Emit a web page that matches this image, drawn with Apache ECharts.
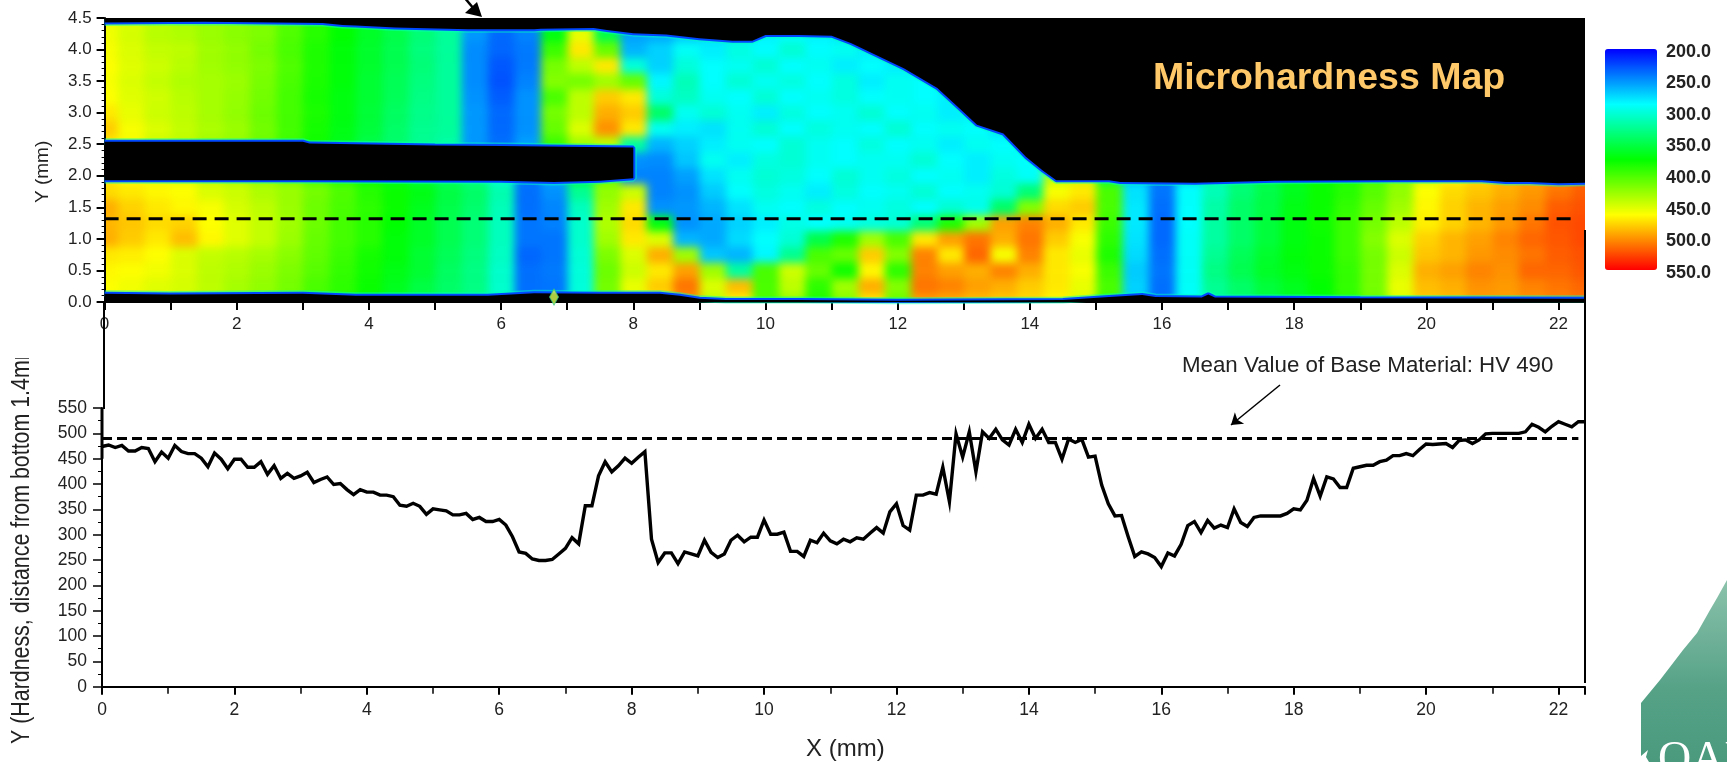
<!DOCTYPE html>
<html>
<head>
<meta charset="utf-8">
<script src="https://cdn.jsdelivr.net/npm/echarts@6/dist/echarts.min.js"></script>
<style>
html,body{margin:0;padding:0;background:#fff;overflow:hidden;width:1727px;height:762px}
#clip{position:absolute;left:105px;top:18px;width:1480px;height:284px;overflow:hidden;background:#000}
#map{position:absolute;left:-105px;top:-18px;width:1727px;height:762px;filter:blur(4.5px)}
#main{position:absolute;left:0;top:0;width:1727px;height:762px}
</style>
</head>
<body>
<div id="clip"><div id="map"></div></div>
<div id="main"></div>
<script>
// Hardness profile along y = 1.4 mm, one value every 0.1 mm from x = 0
const hardness = [
474,477,472,476,465,465,472,470,444,463,
451,476,464,460,460,451,434,461,449,430,
449,449,433,433,444,419,436,411,421,411,
416,423,403,409,414,399,401,389,379,389,
384,384,378,378,375,358,356,362,356,340,
351,349,347,339,339,342,330,334,326,326,
330,319,296,266,263,252,249,249,251,262,
273,294,282,357,357,416,444,424,436,451,
441,453,464,291,245,264,264,243,266,262,
258,289,265,255,262,289,299,286,295,295,
329,301,301,305,267,267,257,289,284,303,
288,282,291,286,294,291,303,314,303,345,
361,318,309,378,378,383,380,433,365,499,
453,503,424,503,490,508,487,477,508,482,
518,490,508,482,482,449,489,482,488,453,
455,398,361,337,338,296,257,266,262,255,
237,264,258,281,318,326,304,328,313,319,
314,351,324,316,334,337,337,337,337,342,
351,349,368,411,376,414,410,393,393,431,
434,437,437,444,447,456,456,460,456,468,
479,478,479,480,472,486,487,480,487,499,
500,500,500,500,500,503,518,512,503,514,
523,518,513,523,523];
const meanHV = 490;
const scanY = 1.32;

// Map grid: columns every 0.4 mm, rows every 0.25 mm
const mapX = ['0','0.4','0.8','1.2','1.6','2','2.4','2.8','3.2','3.6','4','4.4','4.8','5.2','5.6','6','6.4','6.8','7.2','7.6','8','8.4','8.8','9.2','9.6','10','10.4','10.8','11.2','11.6','12','12.4','12.8','13.2','13.6','14','14.4','14.8','15.2','15.6','16','16.4','16.8','17.2','17.6','18','18.4','18.8','19.2','19.6','20','20.4','20.8','21.2','21.6','22','22.4'];
const mapY = ['0','0.25','0.5','0.75','1','1.25','1.5','1.75','2','2.25','2.5','2.75','3','3.25','3.5','3.75','4','4.25','4.5'];
const row000 = [460,455,450,445,438,430,422,412,398,388,375,362,350,338,328,305,238,240,300,410,450,470,500,440,465,400,425,385,420,470,410,495,490,485,480,475,465,450,395,270,238,288,322,338,352,362,372,390,412,450,480,485,495,495,500,505,510];
const row025 = [462,458,452,448,440,432,425,415,400,390,378,365,352,340,330,305,238,240,300,415,455,480,510,450,485,400,440,390,430,490,420,510,505,495,490,480,470,455,400,272,238,290,325,340,355,365,375,392,415,455,485,490,500,497,505,510,515];
const row050 = [465,462,458,450,440,435,428,418,405,392,380,368,358,342,330,305,238,242,300,412,445,470,495,430,320,400,445,410,380,465,390,505,495,490,505,490,470,460,395,270,240,290,330,348,362,370,378,392,415,450,490,495,505,500,515,515,520];
const row075 = [470,468,462,450,442,438,432,422,408,395,382,372,358,345,332,308,235,240,302,418,450,490,430,268,262,285,325,400,410,480,420,505,470,515,460,505,470,455,385,275,238,290,325,345,360,372,378,395,415,445,482,488,498,502,510,518,522];
const row100 = [490,480,470,485,465,452,442,428,410,398,388,372,362,348,335,310,240,240,305,430,470,450,262,258,275,288,302,350,385,430,400,470,495,510,490,510,480,460,390,278,236,290,320,340,355,370,378,395,420,450,478,488,495,505,515,520,525];
const row125 = [488,482,475,478,462,452,442,430,412,398,388,375,362,348,335,310,240,244,305,435,475,370,250,258,272,282,296,288,292,298,302,335,385,430,495,505,490,470,395,280,236,288,320,340,355,370,380,395,415,440,468,478,488,498,510,522,525];
const row150 = [490,478,470,465,460,448,440,428,412,400,390,378,365,350,338,312,238,246,310,430,470,250,252,262,278,292,288,298,288,292,298,288,302,294,340,420,475,480,400,280,238,288,318,340,352,368,378,392,410,430,465,478,488,495,502,518,522];
const row175 = [475,470,465,462,450,445,435,428,415,402,388,378,368,352,340,315,238,250,325,425,445,245,250,270,288,298,292,282,298,288,292,302,288,292,302,335,460,470,400,278,240,288,312,335,350,365,378,388,405,425,462,475,482,490,498,510,518];
const row200 = [470,462,455,450,440,432,425,415,400,388,378,365,352,340,328,300,240,260,360,410,245,245,255,278,292,302,298,288,302,292,298,288,292,282,298,290,440,445,350,260,240,270,320,340,355,368,378,385,400,420,445,465,475,485,490,500,510];
const row225 = [465,458,450,442,435,428,418,405,390,378,362,350,338,322,300,250,260,300,370,410,250,248,268,292,282,298,302,292,288,292,292,302,288,282,292,288,280,285,285,285,285,285,285,285,285,285,285,285,285,285,285,285,285,285,285,285,285];
const row250 = [470,460,445,440,430,425,412,396,380,366,350,338,325,318,252,238,255,395,430,440,320,262,272,282,292,288,302,292,288,298,288,292,282,292,288,282,280,280,285,285,285,285,285,285,285,285,285,285,285,285,285,285,285,285,285,285,285];
const row275 = [480,460,450,442,434,428,414,398,382,368,355,340,326,322,252,236,250,410,450,500,470,292,282,278,292,302,288,298,292,288,302,288,292,288,278,278,280,285,285,285,285,285,285,285,285,285,285,285,285,285,285,285,285,285,285,285,285];
const row300 = [470,455,445,440,432,425,412,398,384,370,356,342,328,322,252,236,250,415,440,490,480,340,292,302,292,282,298,288,292,302,288,292,282,285,285,285,285,285,285,285,285,285,285,285,285,285,285,285,285,285,285,285,285,285,285,285,285];
const row325 = [462,452,446,438,432,426,414,398,382,370,358,345,330,322,250,232,250,400,440,480,470,300,308,292,288,302,288,292,298,288,292,288,282,285,285,285,285,285,285,285,285,285,285,285,285,285,285,285,285,285,285,285,285,285,285,285,285];
const row350 = [460,450,442,435,432,428,416,400,384,372,358,346,332,322,248,228,245,420,415,430,410,285,312,288,302,292,298,288,298,282,292,288,282,285,285,285,285,285,285,285,285,285,285,285,285,285,285,285,285,285,285,285,285,285,285,285,285];
const row375 = [462,452,445,438,430,425,418,402,385,372,360,348,334,322,248,230,242,415,440,470,300,272,300,288,292,302,288,292,282,288,282,282,282,282,282,282,282,282,282,282,282,282,282,282,282,282,282,282,282,282,282,282,282,282,282,282,282];
const row400 = [460,450,442,440,430,425,415,400,385,372,360,348,332,322,248,235,242,395,470,410,262,272,290,282,297,287,302,287,292,282,278,278,278,278,278,278,278,278,278,278,278,278,278,278,278,278,278,278,278,278,278,278,278,278,278,278,278];
const row425 = [458,448,438,435,428,422,418,402,388,375,362,350,335,322,252,236,245,370,455,350,255,258,268,275,280,284,288,284,280,278,278,278,278,278,278,278,278,278,278,278,278,278,278,278,278,278,278,278,278,278,278,278,278,278,278,278,278];
const row450 = [455,450,440,432,428,424,418,405,388,375,362,350,335,322,252,236,245,330,420,340,255,258,268,275,280,284,288,284,280,278,278,278,278,278,278,278,278,278,278,278,278,278,278,278,278,278,278,278,278,278,278,278,278,278,278,278,278];
const mapRows = [row000,row025,row050,row075,row100,row125,row150,row175,row200,row225,row250,row275,row300,row325,row350,row375,row400,row425,row450];

// Specimen outline, [x mm, y mm]
const topEdge = [[0,4.43],[1.5,4.44],[3.3,4.42],[3.6,4.39],[3.8,4.38],[4.4,4.35],[5.5,4.32],[6.5,4.32],[6.6,4.33],[7.4,4.34],[7.6,4.31],[8,4.26],[8.5,4.24],[9,4.18],[9.5,4.14],[9.8,4.14],[10,4.23],[10.5,4.23],[11,4.22],[11.3,4.1],[11.6,3.95],[12.1,3.7],[12.6,3.39],[12.9,3.1],[13.2,2.81],[13.6,2.67],[13.94,2.3],[14.2,2.08],[14.4,1.93],[15.2,1.93],[15.37,1.9],[16.5,1.89],[17.7,1.92],[19.5,1.93],[20.84,1.93],[21.2,1.9],[21.56,1.9],[22,1.88],[22.4,1.89]];
const notchEdge = [[0,2.54],[3,2.54],[3.1,2.51],[5,2.48],[6,2.47],[8,2.45],[8,1.96],[7.5,1.92],[6.8,1.9],[6,1.92],[3,1.93],[0,1.93]];
const bottomEdge = [[0,0.13],[1,0.12],[3,0.13],[3.8,0.1],[4.8,0.1],[5.8,0.1],[6.5,0.14],[7.5,0.13],[8.4,0.13],[8.7,0.1],[9,0.05],[9.4,0.03],[10.5,0.03],[12,0.02],[14.5,0.03],[15.2,0.08],[15.7,0.11],[15.9,0.08],[16.6,0.07],[16.7,0.12],[16.8,0.07],[19,0.06],[22.4,0.05]];
const defectPoint = [[6.8,0.08]];

const C_AXIS = '#222';
const mapColors = ['#0000ff','#00ffff','#00ff00','#ffff00','#ff0000'];
const mapData = [];
mapRows.forEach((r,j)=>r.forEach((v,i)=>mapData.push([i,j,v])));

echarts.init(document.getElementById('map'),null,{renderer:'canvas'}).setOption({
  animation:false,
  grid:{left:91.8,top:10.1,width:1507,height:299.8},
  xAxis:{type:'category',data:mapX,show:false},
  yAxis:{type:'category',data:mapY,show:false},
  visualMap:{show:false,min:200,max:550,inRange:{color:mapColors},seriesIndex:0},
  series:[{type:'heatmap',data:mapData,progressive:0,silent:true,emphasis:{disabled:true}}]
});

const xTickLabel = {fontFamily:'Liberation Sans',fontSize:17,color:C_AXIS};
function polygon(pts){
  return function(p,api){
    return {type:'polygon',shape:{points:pts.map(q=>api.coord(q))},style:{fill:'#000'},silent:true};
  };
}
const topMask = topEdge.concat([[22.4,4.5],[0,4.5]]);
const bottomMask = bottomEdge.concat([[22.4,0],[0,0]]);
function edgeSeries(edge,width,color,z){
  return {type:'line',xAxisIndex:0,yAxisIndex:0,data:edge,showSymbol:false,silent:true,z:z,clip:true,
    lineStyle:{width:width,color:color},animation:false};
}
function maskSeries(pts){
  return {type:'custom',xAxisIndex:0,yAxisIndex:0,data:[0],renderItem:polygon(pts),clip:true,z:5,silent:true};
}

const option = {
  animation:false,
  backgroundColor:'transparent',
  textStyle:{fontFamily:'Liberation Sans'},
  grid:[
    {left:104.6,top:18,width:1480.4,height:284},
    {left:102,top:408,width:1483,height:278.7},
    {left:1605,top:51.7,width:52,height:221}
  ],
  xAxis:[
    {gridIndex:0,type:'value',min:0,max:22.4,interval:2,splitLine:{show:false},
     axisLine:{onZero:false,lineStyle:{color:'#000',width:2}},
     axisTick:{length:8,lineStyle:{color:'#000',width:2}},
     minorTick:{show:true,splitNumber:2,length:8,lineStyle:{color:'#000',width:2}},
     axisLabel:Object.assign({showMaxLabel:false,margin:14},xTickLabel)},
    {gridIndex:1,type:'value',min:0,max:22.4,interval:2,splitLine:{show:false},
     axisLine:{onZero:false,lineStyle:{color:'#000',width:2}},
     axisTick:{length:8,lineStyle:{color:'#000',width:2}},
     minorTick:{show:true,splitNumber:2,length:7,lineStyle:{color:'#000',width:1.5}},
     axisLabel:Object.assign({showMaxLabel:false,margin:14},xTickLabel,{fontSize:17.5})},
    {gridIndex:2,type:'value',show:false,min:0,max:1}
  ],
  yAxis:[
    {gridIndex:0,type:'value',min:0,max:4.5,interval:0.5,splitLine:{show:false},
     axisLine:{lineStyle:{color:'#000',width:2}},
     axisTick:{length:8,lineStyle:{color:'#000',width:2}},
     minorTick:{show:true,splitNumber:5,length:3,lineStyle:{color:'#000',width:1}},
     axisLabel:Object.assign({margin:13,formatter:v=>v.toFixed(1)},xTickLabel)},
    {gridIndex:1,type:'value',min:0,max:550,interval:50,splitLine:{show:false},
     axisLine:{lineStyle:{color:'#000',width:2}},
     axisTick:{length:9,lineStyle:{color:'#000',width:1.5}},
     minorTick:{show:true,splitNumber:2,length:4,lineStyle:{color:'#000',width:1}},
     axisLabel:Object.assign({margin:15},xTickLabel,{fontSize:17.5})},
    {gridIndex:2,type:'value',min:200,max:550,interval:50,inverse:true,position:'right',
     axisLine:{show:false},axisTick:{show:false},splitLine:{show:false},
     axisLabel:{margin:9,fontFamily:'Liberation Sans',fontWeight:'bold',fontSize:18,color:'#222',formatter:v=>v.toFixed(1)}}
  ],
  visualMap:{type:'continuous',show:true,seriesIndex:[],min:200,max:550,inverse:true,calculable:false,realtime:false,
    left:1605,top:49,itemWidth:52,itemHeight:221,padding:0,text:['',''],showLabel:false,
    inRange:{color:mapColors},hoverLink:false,silent:true},
  series:[
    edgeSeries(topEdge,7,'rgba(0,255,190,0.5)',3),
    edgeSeries(topEdge,4,'#0048ff',4),
    edgeSeries(notchEdge,7,'rgba(0,255,190,0.5)',3),
    edgeSeries(notchEdge,4,'#0048ff',4),
    edgeSeries(bottomEdge,7,'rgba(0,255,190,0.5)',3),
    edgeSeries(bottomEdge,4,'#0048ff',4),
    maskSeries(topMask),
    maskSeries(notchEdge),
    maskSeries(bottomMask),
    {type:'scatter',xAxisIndex:0,yAxisIndex:0,data:defectPoint,symbol:'diamond',symbolSize:[9,16],z:6,silent:true,
     itemStyle:{color:'#d8ff50',borderColor:'#30c080',borderWidth:1}},
    {type:'line',xAxisIndex:0,yAxisIndex:0,data:[[0,scanY],[22.3,scanY]],showSymbol:false,z:7,silent:true,
     lineStyle:{color:'#000',width:3,type:[14,8]}},
    {type:'line',xAxisIndex:1,yAxisIndex:1,data:[[0,meanHV],[22.3,meanHV]],showSymbol:false,z:3,silent:true,
     lineStyle:{color:'#000',width:3,type:[10,5]},
     markLine:{silent:true,symbol:['none','arrow'],symbolSize:11,label:{show:false},animation:false,
       lineStyle:{color:'#000',width:1.5,type:'solid'},
       data:[[{x:1280,y:385},{x:1231,y:425}]]}},
    {type:'line',xAxisIndex:1,yAxisIndex:1,data:hardness.map((v,i)=>[i/10,v]),showSymbol:false,z:4,silent:true,clip:false,
     lineStyle:{color:'#000',width:3.4,join:'miter'}},
    {type:'line',xAxisIndex:1,yAxisIndex:1,data:[[0,450],[0,550]],showSymbol:false,z:4,silent:true,lineStyle:{color:'#000',width:3}},
    {type:'line',xAxisIndex:2,yAxisIndex:2,data:[],silent:true}
  ],
  graphic:[
    // axis lines that run between the two panels
    {type:'line',z:10,shape:{x1:104,y1:302,x2:104,y2:409},style:{stroke:'#000',lineWidth:2}},
    {type:'line',z:10,shape:{x1:1585,y1:230,x2:1585,y2:683},style:{stroke:'#000',lineWidth:2}},
    // top arrow
    {type:'polygon',z:12,shape:{points:[[482,17],[465,13],[477,2]]},style:{fill:'#000'}},
    {type:'line',z:12,shape:{x1:464,y1:-3,x2:474,y2:9},style:{stroke:'#000',lineWidth:2.5}},
    // titles
    {type:'text',z:20,x:1153,y:60,style:{text:'Microhardness Map',fill:'#ffc868',font:'bold 37.5px "Liberation Sans"'}},
    {type:'text',z:20,x:1182,y:355,style:{text:'Mean Value of Base Material: HV 490',fill:'#222',font:'22.3px "Liberation Sans"'}},
    {type:'text',z:20,x:806,y:737,style:{text:'X (mm)',fill:'#222',font:'24px "Liberation Sans"'}},
    {type:'text',z:20,x:33,y:203,rotation:Math.PI/2,style:{text:'Y (mm)',fill:'#222',font:'19px "Liberation Sans"'}},
    {type:'text',z:20,x:10,y:744,rotation:Math.PI/2,scaleX:0.855,style:{text:'Y (Hardness, distance from bottom 1.4mm',fill:'#222',font:'25px "Liberation Sans"'}},
    {type:'rect',z:21,shape:{x:0,y:330,width:60,height:28},style:{fill:'#fff'}},
    // remnant of a hidden axis title between the panels
    {type:'text',z:20,x:811,y:326,style:{text:'X (mm)',fill:'#222',font:'24px "Liberation Sans"'}},
    {type:'rect',z:21,shape:{x:805,y:322,width:85,height:28},style:{fill:'#fff'}},
    // logo
    {type:'polygon',z:5,shape:{points:[[1727,580],[1717,598],[1710,610],[1697,633],[1683,650],[1670,667],[1660,680],[1641,703],[1641,762],[1727,762]]},
     style:{fill:{type:'linear',x:0,y:0,x2:0,y2:1,colorStops:[{offset:0,color:'#8cc2ac'},{offset:0.6,color:'#55a287'},{offset:1,color:'#4b9a7e'}]}}},
    {type:'text',z:6,x:1658,y:738,style:{text:'OAK',fill:'#fff',font:'46px "Liberation Serif"'}},
    {type:'polygon',z:6,shape:{points:[[1641,756],[1648,750],[1646,757],[1649,762],[1641,762]]},style:{fill:'#fff'}}
  ]
};
echarts.init(document.getElementById('main'),null,{renderer:'canvas'}).setOption(option);
</script>
</body>
</html>
